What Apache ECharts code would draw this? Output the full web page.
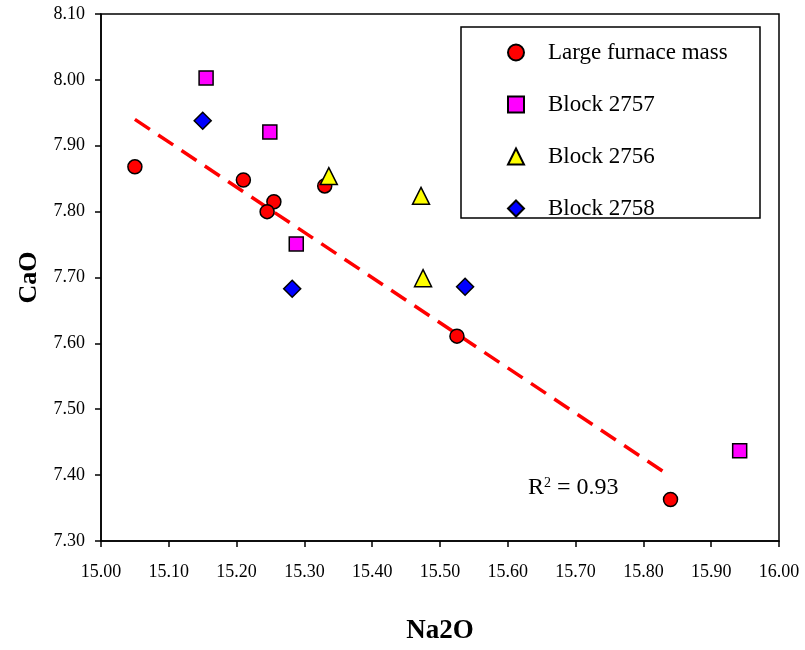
<!DOCTYPE html>
<html>
<head>
<meta charset="utf-8">
<script src="https://cdn.jsdelivr.net/npm/echarts@6/dist/echarts.min.js"></script>
<style>
  html, body { margin: 0; padding: 0; background: #fff; }
  #main { width: 805px; height: 650px; }
</style>
</head>
<body>
<div id="main"></div>
<script>
// Datos (Na2O, CaO)
var furnaceX = [15.05, 15.21, 15.255, 15.245, 15.33, 15.525, 15.84];
var furnaceY = [7.868, 7.848, 7.815, 7.800, 7.839, 7.611, 7.363];
var b2757X = [15.155, 15.249, 15.288, 15.942];
var b2757Y = [8.003, 7.921, 7.751, 7.437];
var b2756X = [15.336, 15.472, 15.475];
var b2756Y = [7.854, 7.824, 7.699];
var b2758X = [15.150, 15.282, 15.537];
var b2758Y = [7.938, 7.683, 7.686];
// Linea de tendencia (regresion de la masa del horno)
var trendX = [15.05, 15.84];
var trendY = [7.94, 7.398];
var seriesNames = ['Large furnace mass', 'Block 2757', 'Block 2756', 'Block 2758'];

function pares(xs, ys) {
  return xs.map(function (x, i) { return [x, ys[i]]; });
}

var fuente = '"Liberation Serif", "Times New Roman", serif';
var borde = { borderColor: '#000', borderWidth: 1.5, opacity: 1 };

var grafico = echarts.init(document.getElementById('main'));
var option = {
  animation: false,
  backgroundColor: '#fff',
  grid: {
    left: 101, right: 26, top: 14, bottom: 109,
    show: true, borderColor: '#000', borderWidth: 1.5
  },
  xAxis: {
    type: 'value',
    min: 15, max: 16, interval: 0.1,
    name: 'Na2O',
    nameLocation: 'middle',
    nameGap: 77,
    nameTextStyle: { fontFamily: fuente, fontSize: 27, fontWeight: 'bold', color: '#000' },
    axisLine: { lineStyle: { color: '#000', width: 1.5 } },
    axisTick: { length: 6, lineStyle: { color: '#000', width: 1.5 } },
    axisLabel: {
      fontFamily: fuente, fontSize: 18, color: '#000', margin: 22,
      formatter: function (v) { return v.toFixed(2); }
    },
    splitLine: { show: false }
  },
  yAxis: {
    type: 'value',
    min: 7.3, max: 8.1, interval: 0.1,
    name: 'CaO',
    nameLocation: 'middle',
    nameGap: 58,
    nameRotate: 90,
    nameTextStyle: { fontFamily: fuente, fontSize: 26, fontWeight: 'bold', color: '#000' },
    axisLine: { lineStyle: { color: '#000', width: 1.5 } },
    axisTick: { length: 6, lineStyle: { color: '#000', width: 1.5 } },
    axisLabel: {
      fontFamily: fuente, fontSize: 18, color: '#000', margin: 16,
      formatter: function (v) { return v.toFixed(2); }
    },
    splitLine: { show: false }
  },
  legend: {
    data: seriesNames,
    orient: 'vertical',
    left: 502,
    top: 36,
    itemWidth: 16,
    itemHeight: 16,
    itemGap: 29,
    textStyle: {
      fontFamily: fuente, fontSize: 23, color: '#000',
      lineHeight: 23, padding: [0, 0, 0, 19]
    }
  },
  graphic: [
    {
      type: 'rect',
      shape: { x: 461, y: 27, width: 299, height: 191 },
      style: { fill: 'none', stroke: '#000', lineWidth: 1.5 },
      z: 10
    },
    {
      type: 'text',
      left: 528,
      top: 476,
      style: {
        text: '{b|R}{s|2}{b| = 0.93}',
        rich: {
          b: { fontFamily: fuente, fontSize: 24, color: '#000', verticalAlign: 'bottom' },
          s: { fontFamily: fuente, fontSize: 14, color: '#000', verticalAlign: 'top', padding: [0, 0, 10, 0] }
        }
      }
    }
  ],
  series: [
    {
      name: 'trend',
      type: 'line',
      data: pares(trendX, trendY),
      symbol: 'none',
      lineStyle: { color: '#ff0000', width: 3.5, type: [18, 10] },
      z: 1
    },
    {
      name: 'Large furnace mass',
      type: 'scatter',
      symbol: 'circle',
      symbolSize: 14,
      itemStyle: Object.assign({ color: '#ff0000' }, borde),
      data: pares(furnaceX, furnaceY),
      z: 2
    },
    {
      name: 'Block 2757',
      type: 'scatter',
      symbol: 'rect',
      symbolSize: 14,
      itemStyle: Object.assign({ color: '#ff00ff' }, borde),
      data: pares(b2757X, b2757Y),
      z: 2
    },
    {
      name: 'Block 2756',
      type: 'scatter',
      symbol: 'triangle',
      symbolSize: 17,
      itemStyle: Object.assign({ color: '#ffff00' }, borde),
      data: pares(b2756X, b2756Y),
      z: 2
    },
    {
      name: 'Block 2758',
      type: 'scatter',
      symbol: 'diamond',
      symbolSize: 17,
      itemStyle: Object.assign({ color: '#0000ff' }, borde),
      data: pares(b2758X, b2758Y),
      z: 2
    }
  ]
};

grafico.setOption(option);
</script>
</body>
</html>
